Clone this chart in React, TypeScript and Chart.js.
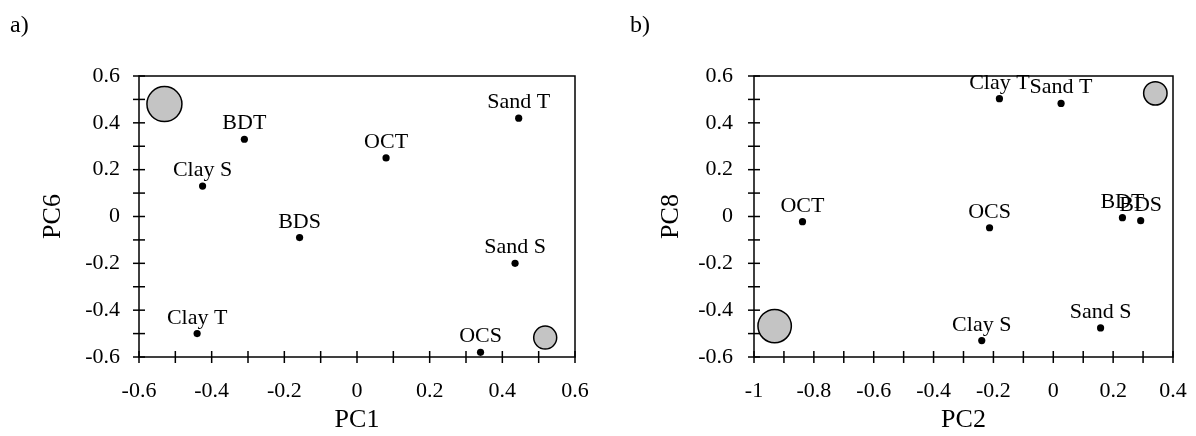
import React, { useEffect, useRef } from "react";
import { Chart, registerables } from "chart.js";

Chart.register(...registerables);

// ---- Data: panel a) PC1 vs PC6 ----
const namesA = ["Clay S", "BDT", "OCT", "Sand T", "BDS", "Sand S", "Clay T", "OCS"];
const pc1A = [-0.425, -0.31, 0.08, 0.445, -0.158, 0.435, -0.44, 0.34];
const pc6A = [0.13, 0.33, 0.25, 0.42, -0.09, -0.2, -0.5, -0.58];
const circleXA = [-0.53, 0.518];
const circleYA = [0.48, -0.517];
const xTickLabelsA = ["-0.6", "-0.4", "-0.2", "0", "0.2", "0.4", "0.6"];
const yTickLabelsA = ["-0.6", "-0.4", "-0.2", "0", "0.2", "0.4", "0.6"];

// ---- Data: panel b) PC2 vs PC8 ----
const namesB = ["Clay T", "Sand T", "OCT", "OCS", "BDT", "BDS", "Clay S", "Sand S"];
const pc2B = [-0.18, 0.026, -0.838, -0.213, 0.231, 0.292, -0.239, 0.158];
const pc8B = [0.503, 0.483, -0.022, -0.048, -0.005, -0.018, -0.53, -0.476];
const circleXB = [-0.931, 0.341];
const circleYB = [-0.468, 0.526];
const xTickLabelsB = ["-1", "-0.8", "-0.6", "-0.4", "-0.2", "0", "0.2", "0.4"];
const yTickLabelsB = ["-0.6", "-0.4", "-0.2", "0", "0.2", "0.4", "0.6"];

const FONT = "'Liberation Serif', 'Times New Roman', serif";

function labelFor(list: string[]) {
  return (v: number) => {
    const n = Math.round(Number(v) * 10);
    const found = list.find((s) => Math.round(parseFloat(s) * 10) === n);
    return found !== undefined ? found : "";
  };
}

const frameAndTicks = {
  id: "frameAndTicks",
  afterDatasetsDraw(chart: any) {
    const { ctx, chartArea } = chart;
    const { left, right, top, bottom } = chartArea;
    ctx.save();
    ctx.strokeStyle = "#000";
    ctx.lineWidth = 1.5;
    ctx.strokeRect(left, top, right - left, bottom - top);
    const L = 6;
    const xs = chart.scales.x;
    xs.ticks.forEach((t: any) => {
      const px = xs.getPixelForValue(t.value);
      ctx.beginPath();
      ctx.moveTo(px, bottom - L);
      ctx.lineTo(px, bottom + L);
      ctx.stroke();
    });
    const ys = chart.scales.y;
    ys.ticks.forEach((t: any) => {
      const py = ys.getPixelForValue(t.value);
      ctx.beginPath();
      ctx.moveTo(left - L, py);
      ctx.lineTo(left + L, py);
      ctx.stroke();
    });
    ctx.restore();
  },
};

const pointLabels = {
  id: "pointLabels",
  afterDatasetsDraw(chart: any) {
    const names: string[] = chart.options.plugins.pointLabels.names;
    const meta = chart.getDatasetMeta(0);
    const { ctx } = chart;
    ctx.save();
    ctx.fillStyle = "#000";
    ctx.font = `22px ${FONT}`;
    ctx.textAlign = "center";
    ctx.textBaseline = "alphabetic";
    meta.data.forEach((el: any, i: number) => {
      ctx.fillText(names[i], el.x, el.y - 10);
    });
    ctx.restore();
  },
};

type PanelProps = {
  names: string[];
  xs: number[];
  ys: number[];
  cx: number[];
  cy: number[];
  radii: number[];
  xMin: number;
  xMax: number;
  yMin: number;
  yMax: number;
  xLabels: string[];
  yLabels: string[];
  xTitle: string;
  yTitle: string;
  yAxisWidth: number;
  yTitlePad: number;
  yTickPad: number;
  left: number;
};

function Panel(p: PanelProps) {
  const ref = useRef<HTMLCanvasElement | null>(null);
  useEffect(() => {
    if (!ref.current) return;
    const chart = new Chart(ref.current, {
      type: "scatter",
      data: {
        datasets: [
          {
            data: p.xs.map((x, i) => ({ x, y: p.ys[i] })),
            pointRadius: 3.6,
            pointBackgroundColor: "#000",
            pointBorderColor: "#000",
            pointBorderWidth: 0,
          },
          {
            data: p.cx.map((x, i) => ({ x, y: p.cy[i] })),
            pointRadius: p.radii,
            pointBackgroundColor: "#c4c4c4",
            pointBorderColor: "#000",
            pointBorderWidth: 1.5,
          },
        ],
      },
      options: {
        animation: false,
        responsive: false,
        events: [],
        layout: { padding: { top: 76, right: 23, left: 0, bottom: 0 } },
        plugins: {
          legend: { display: false },
          tooltip: { enabled: false },
          pointLabels: { names: p.names },
        } as any,
        scales: {
          x: {
            type: "linear",
            min: p.xMin,
            max: p.xMax,
            grid: { display: false, drawTicks: false },
            border: { display: false },
            ticks: {
              stepSize: 0.1,
              autoSkip: false,
              maxRotation: 0,
              padding: 21,
              color: "#000",
              font: { family: FONT, size: 22 },
              callback: labelFor(p.xLabels) as any,
            },
            title: {
              display: true,
              text: p.xTitle,
              color: "#000",
              font: { family: FONT, size: 26 },
              padding: { top: 0, bottom: 0 },
            },
            afterFit: (s: any) => {
              s.height = 79;
              s.paddingLeft = 0;
              s.paddingRight = 0;
            },
          },
          y: {
            type: "linear",
            min: p.yMin,
            max: p.yMax,
            grid: { display: false, drawTicks: false },
            border: { display: false },
            ticks: {
              stepSize: 0.1,
              autoSkip: false,
              padding: p.yTickPad,
              color: "#000",
              font: { family: FONT, size: 22 },
              callback: labelFor(p.yLabels) as any,
            },
            title: {
              display: true,
              text: p.yTitle,
              color: "#000",
              font: { family: FONT, size: 26 },
              padding: { top: p.yTitlePad, bottom: 0 },
            },
            afterFit: (s: any) => {
              s.width = p.yAxisWidth;
              s.paddingTop = 0;
              s.paddingBottom = 0;
            },
          },
        },
      } as any,
      plugins: [frameAndTicks, pointLabels],
    });
    return () => chart.destroy();
  }, []);
  return (
    <canvas
      ref={ref}
      width={598}
      height={436}
      style={{ position: "absolute", left: p.left, top: 0, width: 598, height: 436, display: "block" }}
    />
  );
}

export default function App() {
  const textStyle: React.CSSProperties = {
    position: "absolute",
    top: 10,
    fontFamily: FONT,
    fontSize: 24,
    color: "#000",
    lineHeight: "28px",
  };
  return (
    <div style={{ position: "absolute", left: 0, top: 0, width: 1196, height: 436, background: "#fff", overflow: "hidden" }}>
      <Panel
        names={namesA}
        xs={pc1A}
        ys={pc6A}
        cx={circleXA}
        cy={circleYA}
        radii={[17.5, 11.5]}
        xMin={-0.6}
        xMax={0.6}
        yMin={-0.6}
        yMax={0.6}
        xLabels={xTickLabelsA}
        yLabels={yTickLabelsA}
        xTitle="PC1"
        yTitle="PC6"
        yAxisWidth={139}
        yTitlePad={38}
        yTickPad={19}
        left={0}
      />
      <Panel
        names={namesB}
        xs={pc2B}
        ys={pc8B}
        cx={circleXB}
        cy={circleYB}
        radii={[16.7, 11.7]}
        xMin={-1}
        xMax={0.4}
        yMin={-0.6}
        yMax={0.6}
        xLabels={xTickLabelsB}
        yLabels={yTickLabelsB}
        xTitle="PC2"
        yTitle="PC8"
        yAxisWidth={156}
        yTitlePad={58}
        yTickPad={21}
        left={598}
      />
      <div style={{ ...textStyle, left: 10 }}>a)</div>
      <div style={{ ...textStyle, left: 630 }}>b)</div>
    </div>
  );
}
